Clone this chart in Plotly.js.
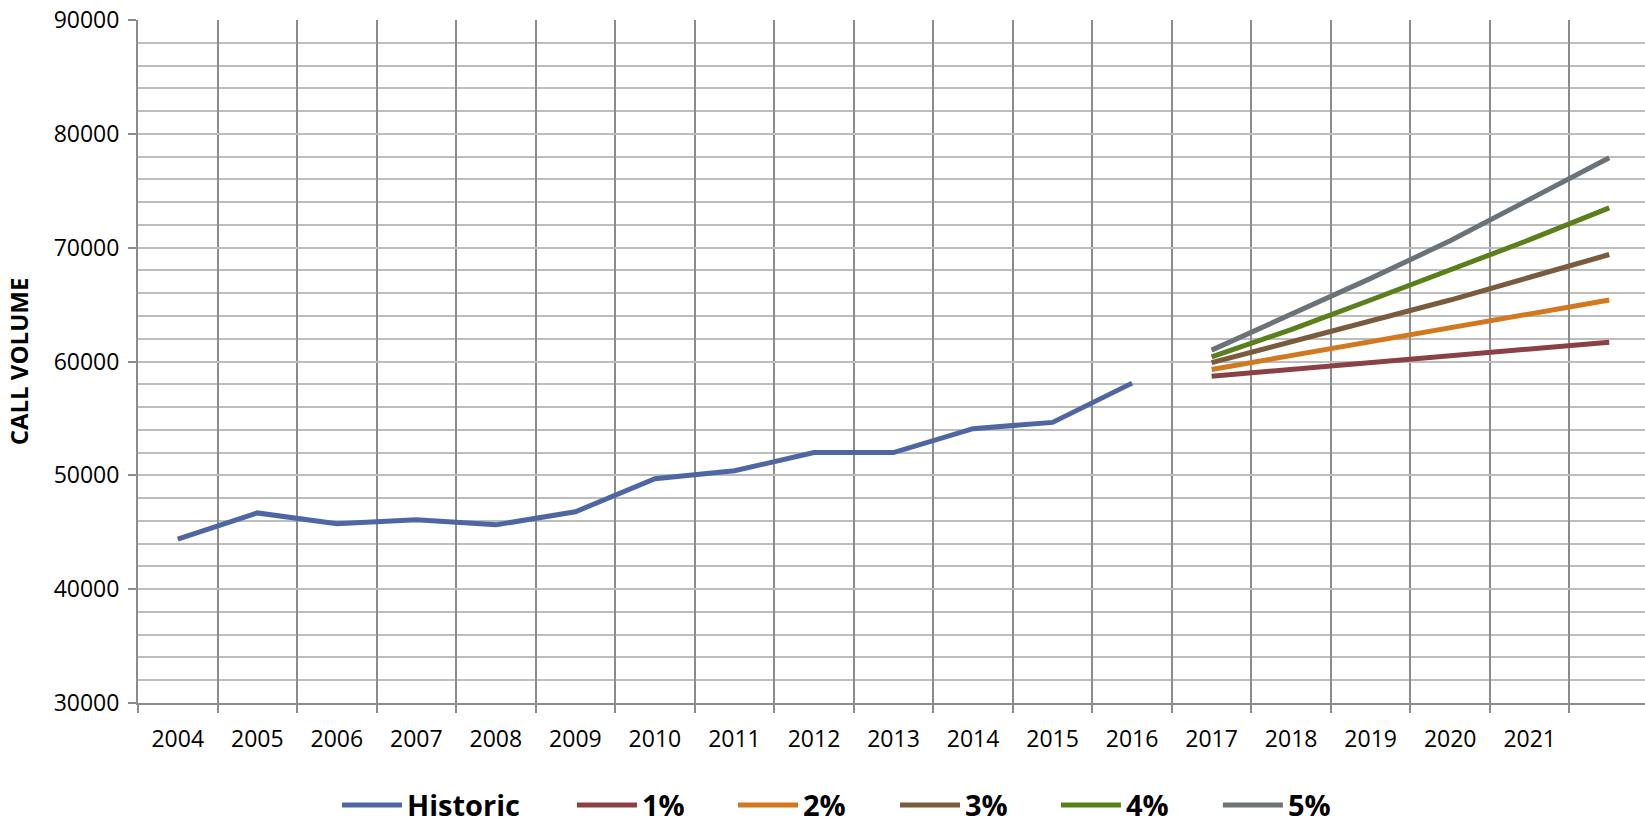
<!DOCTYPE html>
<html>
<head>
<meta charset="utf-8">
<script src="https://cdn.plot.ly/plotly-3.0.1.min.js"></script>
<style>
  html, body { margin: 0; padding: 0; overflow: hidden; background: #fff; }
  #chart { width: 1650px; height: 860px; }
</style>
</head>
<body>
<div id="chart"></div>
<script>
// Categories (last category has no label in the reference)
const years = ['2004','2005','2006','2007','2008','2009','2010','2011','2012',
               '2013','2014','2015','2016','2017','2018','2019','2020','2021',' '];

const historicYears = years.slice(0, 13);
const historic = [44400, 46700, 45750, 46100, 45650, 46800, 49700, 50400,
                  52000, 52000, 54100, 54650, 58100];

const projYears = years.slice(13);
const growth1 = [58700, 59300, 59900, 60500, 61100, 61700];
const growth2 = [59300, 60500, 61700, 62900, 64200, 65400];
const growth3 = [59900, 61700, 63500, 65400, 67400, 69400];
const growth4 = [60400, 62800, 65400, 68000, 70700, 73500];
const growth5 = [61000, 64100, 67300, 70600, 74200, 77900];

const seriesNames = ['Historic', '1%', '2%', '3%', '4%', '5%'];
const seriesColors = ['#4F66A5', '#8B4046', '#D2781F', '#7A5B3E', '#5A7F1B', '#6B7379'];

const yTickVals = [30000, 40000, 50000, 60000, 70000, 80000, 90000];
const yTickText = ['30000', '40000', '50000', '60000', '70000', '80000', '90000'];

const FONT = '"Open Sans", "Liberation Sans", sans-serif';

// legend slot positions (paper fraction) for each series entry
const legendX = [0.1317, 0.2872, 0.3938, 0.5010, 0.6075, 0.7147];
const legendIds = ['legend', 'legend2', 'legend3', 'legend4', 'legend5', 'legend6'];

function mk(x, y, i) {
  return {
    type: 'scatter', mode: 'lines', x: x, y: y, name: seriesNames[i],
    line: { color: seriesColors[i], width: 5 },
    legend: legendIds[i],
    hoverinfo: 'x+y+name'
  };
}

const traces = [
  mk(historicYears, historic, 0),
  mk(projYears, growth1, 1),
  mk(projYears, growth2, 2),
  mk(projYears, growth3, 3),
  mk(projYears, growth4, 4),
  mk(projYears, growth5, 5)
];

const layout = {
  width: 1650, height: 860,
  margin: { l: 138, r: 1, t: 20, b: 157, pad: 0 },
  paper_bgcolor: '#ffffff', plot_bgcolor: '#ffffff',
  font: { family: FONT, size: 23, color: '#000000' },
  showlegend: true,
  xaxis: {
    type: 'category', categoryorder: 'array', categoryarray: years,
    range: [-0.5, 18.5], tickson: 'boundaries',
    showgrid: true, gridcolor: '#8C8C8C', gridwidth: 1.5,
    showline: true, linecolor: '#8C8C8C', linewidth: 2,
    ticks: 'outside', ticklen: 8, tickcolor: '#8C8C8C', tickwidth: 1.5,
    tickfont: { family: FONT, size: 23, color: '#000' },
    ticklabelstandoff: 14,
    zeroline: false, fixedrange: true
  },
  yaxis: {
    range: [30000, 90000], tickmode: 'array', tickvals: yTickVals, ticktext: yTickText,
    showgrid: true, gridcolor: '#BDBDBD', gridwidth: 1.5,
    minor: { dtick: 2000, showgrid: true, gridcolor: '#BDBDBD', gridwidth: 1.5, ticks: '' },
    showline: true, linecolor: '#8C8C8C', linewidth: 2,
    ticks: 'outside', ticklen: 8, tickcolor: '#8C8C8C', tickwidth: 1.5,
    tickfont: { family: FONT, size: 23, color: '#000' },
    ticklabelstandoff: 4,
    title: { text: 'CALL VOLUME', font: { family: FONT, size: 24, color: '#000', weight: 'bold' }, standoff: 18 },
    zeroline: false, fixedrange: true
  }
};

legendIds.forEach(function (id, i) {
  layout[id] = {
    orientation: 'h', x: legendX[i], xanchor: 'left', y: -0.1122, yanchor: 'top',
    font: { family: FONT, size: 29, color: '#000000', weight: 'bold' },
    itemwidth: 60, bgcolor: 'rgba(0,0,0,0)', borderwidth: 0
  };
});

Plotly.newPlot('chart', traces, layout, { displayModeBar: false });
</script>
</body>
</html>
